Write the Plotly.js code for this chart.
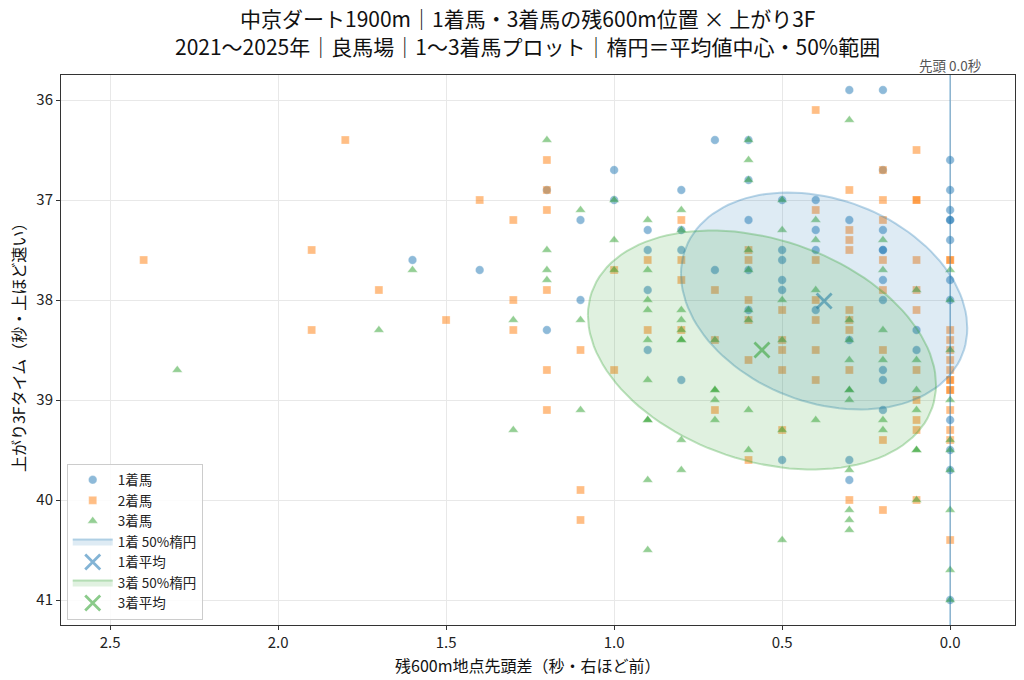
<!DOCTYPE html>
<html>
<head>
<meta charset="utf-8">
<script src="https://cdn.plot.ly/plotly-3.0.1.min.js"></script>
<style>
  body { margin: 0; background: #fff; }
  #chart { width: 1024px; height: 680px; }
</style>
</head>
<body>
<div id="chart"></div>
<script>
// 1着馬: 残600m先頭差 / 上がり3F
var win_x = [1.6, 1.4, 1.2, 1.2, 1.1, 1.1, 1.0, 1.0,
  0.9, 0.9, 0.9, 0.9, 0.8, 0.8, 0.8, 0.8, 0.7, 0.7,
  0.6, 0.6, 0.6, 0.6, 0.6, 0.5, 0.5, 0.5, 0.5, 0.5, 0.5,
  0.4, 0.4, 0.4, 0.4, 0.3, 0.3, 0.3, 0.3, 0.3,
  0.2, 0.2, 0.2, 0.2, 0.2, 0.2, 0.2, 0.2, 0.2, 0.2, 0.1, 0.1,
  0.0, 0.0, 0.0, 0.0, 0.0, 0.0, 0.0, 0.0, 0.0, 0.0, 0.0, 0.0];
var win_y = [37.6, 37.7, 36.9, 38.3, 37.2, 38.0, 36.7, 37.0,
  37.3, 37.5, 37.9, 38.5, 36.9, 37.3, 37.5, 38.8, 36.4, 37.7,
  36.4, 36.8, 37.2, 37.7, 38.1, 37.0, 37.5, 37.6, 37.8, 37.9, 39.6,
  37.0, 37.3, 37.5, 38.1, 35.9, 37.2, 38.4, 39.6, 39.8,
  35.9, 36.7, 37.3, 37.5, 37.5, 37.8, 38.0, 38.7, 38.8, 39.1, 38.3, 38.5,
  36.6, 36.9, 37.1, 37.2, 37.2, 37.4, 37.8, 38.0, 39.2, 39.5, 39.7, 41.0];

// 2着馬
var second_x = [2.4, 1.9, 1.9, 1.8, 1.7, 1.5, 1.4, 1.3, 1.3, 1.3,
  1.2, 1.2, 1.2, 1.2, 1.2, 1.2, 1.1, 1.1, 1.1, 1.0, 1.0, 0.9, 0.9,
  0.8, 0.8, 0.8, 0.8, 0.7, 0.7, 0.7, 0.6, 0.6, 0.6, 0.6, 0.6, 0.6,
  0.5, 0.5, 0.5, 0.5, 0.5, 0.4, 0.4, 0.4, 0.4, 0.4, 0.4, 0.4,
  0.3, 0.3, 0.3, 0.3, 0.3, 0.3, 0.3, 0.3, 0.3,
  0.2, 0.2, 0.2, 0.2, 0.2, 0.2, 0.2, 0.2,
  0.1, 0.1, 0.1, 0.1, 0.1, 0.1, 0.1, 0.1, 0.1, 0.1, 0.1,
  0.0, 0.0, 0.0, 0.0, 0.0, 0.0, 0.0, 0.0, 0.0, 0.0, 0.0, 0.0, 0.0, 0.0, 0.0];
var second_y = [37.6, 37.5, 38.3, 36.4, 37.9, 38.2, 37.0, 37.2, 38.0, 38.3,
  36.6, 36.9, 37.1, 37.9, 38.7, 39.1, 38.5, 39.9, 40.2, 37.7, 38.7, 37.6, 38.3,
  37.2, 37.6, 37.8, 38.3, 37.9, 38.4, 39.1, 37.5, 37.6, 38.0, 38.2, 38.6, 39.6,
  38.1, 38.4, 38.5, 38.7, 39.3, 36.1, 37.1, 37.6, 38.0, 38.2, 38.5, 38.8,
  36.9, 37.3, 37.4, 37.5, 38.1, 38.2, 38.3, 38.7, 40.0,
  36.7, 37.0, 37.2, 37.6, 37.9, 38.5, 39.4, 40.1,
  36.5, 37.0, 37.0, 37.6, 37.9, 38.1, 38.7, 39.0, 39.2, 39.3, 40.0,
  37.6, 37.6, 38.3, 38.4, 38.5, 38.6, 38.7, 38.8, 38.8, 38.9, 38.9, 39.1, 39.3, 39.4, 40.4];

// 3着馬
var third_x = [2.3, 1.7, 1.6, 1.3, 1.3, 1.2, 1.2, 1.2, 1.2, 1.1, 1.1, 1.1,
  1.0, 1.0, 1.0, 0.9, 0.9, 0.9, 0.9, 0.9, 0.9, 0.9, 0.9, 0.9, 0.9,
  0.8, 0.8, 0.8, 0.8, 0.8, 0.8, 0.8, 0.8, 0.8, 0.7, 0.7, 0.7, 0.7, 0.7,
  0.6, 0.6, 0.6, 0.6, 0.6, 0.6, 0.6, 0.6, 0.6, 0.5, 0.5, 0.5, 0.5, 0.5, 0.5,
  0.4, 0.4, 0.4, 0.4, 0.3, 0.3, 0.3, 0.3, 0.3, 0.3, 0.3, 0.3, 0.3, 0.3, 0.3,
  0.2, 0.2, 0.2, 0.2, 0.2, 0.2, 0.1, 0.1, 0.1, 0.1, 0.1, 0.1, 0.1,
  0.0, 0.0, 0.0, 0.0, 0.0, 0.0, 0.0, 0.0, 0.0, 0.0];
var third_y = [38.7, 38.3, 37.7, 38.2, 39.3, 36.4, 37.5, 37.7, 37.8, 37.1, 38.2, 39.1,
  37.0, 37.4, 37.7, 37.2, 37.7, 38.0, 38.1, 38.4, 38.8, 39.2, 39.2, 39.8, 40.5,
  37.1, 37.3, 38.1, 38.2, 38.3, 38.4, 38.4, 39.4, 39.7, 38.4, 38.9, 38.9, 39.0, 39.2,
  36.4, 36.6, 36.8, 37.5, 37.7, 38.1, 38.2, 39.1, 39.5, 37.0, 37.3, 38.0, 38.4, 39.3, 40.4,
  37.2, 37.4, 37.9, 39.2, 36.2, 38.2, 38.4, 38.6, 38.9, 38.9, 39.0, 39.7, 40.1, 40.2, 40.3,
  37.4, 37.7, 38.3, 38.6, 39.2, 39.3, 37.9, 38.6, 38.9, 39.1, 39.5, 39.5, 40.0,
  37.7, 38.0, 38.5, 39.0, 39.4, 39.5, 39.7, 40.1, 40.7, 41.0];

// 平均値と50%楕円（中心, x/y方向の広がり, 相関）
var win_mean = [0.375, 38.01];
var third_mean = [0.56, 38.5];
var win_ell = [0.426, 1.085, -0.25];
var third_ell = [0.518, 1.195, -0.29];

var title_lines = ['中京ダート1900m｜1着馬・3着馬の残600m位置 × 上がり3F',
                   '2021〜2025年｜良馬場｜1〜3着馬プロット｜楕円＝平均値中心・50%範囲'];
var x_title = '残600m地点先頭差（秒・右ほど前）';
var y_title = '上がり3Fタイム（秒・上ほど速い）';

var C_BLUE = '#1f77b4', C_ORANGE = '#ff7f0e', C_GREEN = '#2ca02c';
var FONT = '"Noto Sans CJK JP", "Noto Sans", sans-serif';

function ellipsePts(center, ell) {
    var xs = [], ys = [];
    var sx = ell[0], sy = ell[1], rho = ell[2];
    var k = Math.sqrt(1 - rho * rho);
    for (var i = 0; i <= 120; i++) {
        var t = 2 * Math.PI * i / 120;
        xs.push(center[0] + sx * Math.cos(t));
        ys.push(center[1] + sy * (rho * Math.cos(t) + k * Math.sin(t)));
    }
    return {x: xs, y: ys};
}

function pointTrace(x, y, name, color, symbol, size) {
    return {
        x: x, y: y, name: name,
        type: 'scatter', mode: 'markers',
        marker: {color: color, symbol: symbol, size: size, opacity: 0.5,
                 line: {color: 'rgba(255,255,255,0.6)', width: 0.5}}
    };
}

function ellTrace(center, ell, name, rgb) {
    var p = ellipsePts(center, ell);
    return {
        x: p.x, y: p.y, name: name,
        type: 'scatter', mode: 'lines', fill: 'toself',
        fillcolor: 'rgba(' + rgb + ',0.15)',
        line: {color: 'rgba(' + rgb + ',0.3)', width: 2},
        hoverinfo: 'skip'
    };
}

function meanTrace(m, name, color) {
    return {
        x: [m[0]], y: [m[1]], name: name,
        type: 'scatter', mode: 'markers',
        marker: {symbol: 'x-thin', size: 15, opacity: 0.55,
                 color: color, line: {color: color, width: 2.8}}
    };
}

var data = [
    pointTrace(win_x, win_y, '1着馬', C_BLUE, 'circle', 8.5),
    pointTrace(second_x, second_y, '2着馬', C_ORANGE, 'square', 8),
    pointTrace(third_x, third_y, '3着馬', C_GREEN, 'triangle-up', 9),
    ellTrace(win_mean, win_ell, '1着 50%楕円', '31,119,180'),
    meanTrace(win_mean, '1着平均', C_BLUE),
    ellTrace(third_mean, third_ell, '3着 50%楕円', '44,160,44'),
    meanTrace(third_mean, '3着平均', C_GREEN)
];

function label(text, x, y, size, extra) {
    var a = {xref: 'paper', yref: 'paper', x: x, y: y,
             xanchor: 'center', yanchor: 'middle', showarrow: false,
             text: text, font: {size: size, color: '#111'}};
    for (var key in extra) a[key] = extra[key];
    return a;
}

var layout = {
    width: 1024, height: 680,
    paper_bgcolor: '#fff', plot_bgcolor: '#fff',
    font: {family: FONT, color: '#222', size: 14},
    margin: {l: 61, r: 9, t: 75, b: 55},
    xaxis: {
        range: [2.646, -0.193],
        tickvals: [2.5, 2.0, 1.5, 1.0, 0.5, 0.0],
        tickformat: '.1f',
        showgrid: true, gridcolor: '#e8e8e8', zeroline: false,
        showline: true, linecolor: '#333', linewidth: 1, mirror: true,
        ticks: 'outside', ticklen: 4, tickcolor: '#333',
        tickfont: {size: 15}
    },
    yaxis: {
        range: [41.25, 35.75],
        tickvals: [36, 37, 38, 39, 40, 41],
        showgrid: true, gridcolor: '#e8e8e8', zeroline: false,
        showline: true, linecolor: '#333', linewidth: 1, mirror: true,
        ticks: 'outside', ticklen: 4, tickcolor: '#333',
        tickfont: {size: 15}
    },
    legend: {
        x: 0.006, y: 0.01, xanchor: 'left', yanchor: 'bottom',
        bgcolor: 'rgba(255,255,255,0.85)', bordercolor: '#ccc', borderwidth: 1,
        font: {size: 13.5}, tracegroupgap: 0, itemwidth: 40
    },
    shapes: [{
        type: 'line', xref: 'x', yref: 'paper',
        x0: 0, x1: 0, y0: 0, y1: 1,
        line: {color: 'rgba(31,119,180,0.5)', width: 1.5}
    }],
    annotations: [
        {xref: 'x', yref: 'paper', x: 0, y: 1,
         xanchor: 'center', yanchor: 'bottom', yshift: -2,
         text: '先頭 0.0秒', showarrow: false,
         font: {size: 13.5, color: '#555'}},
        label(title_lines[0], 0.4885, 1.1036, 21, {}),
        label(title_lines[1], 0.4885, 1.0527, 21, {}),
        label(x_title, 0.4895, -0.0727, 16, {}),
        label(y_title, -0.045, 0.511, 16, {textangle: -90})
    ],
    showlegend: true
};

Plotly.newPlot('chart', data, layout, {displayModeBar: false});
</script>
</body>
</html>
